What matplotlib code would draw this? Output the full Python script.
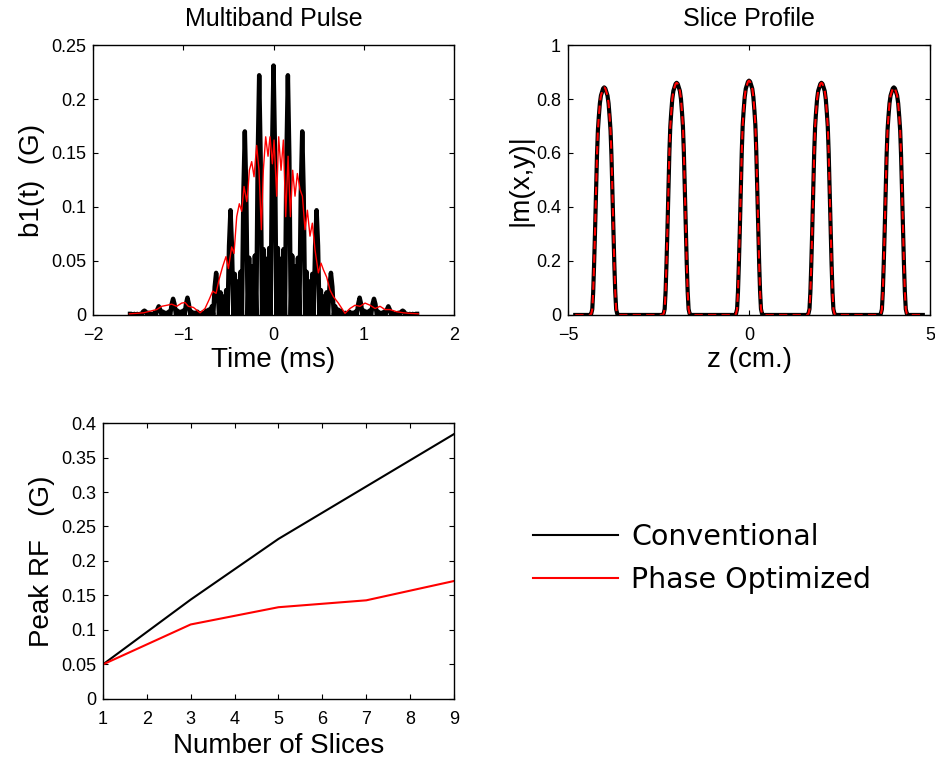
import matplotlib
matplotlib.use('Agg')
import matplotlib.pyplot as plt
import numpy as np

plt.rcParams['font.family'] = ['Liberation Sans', 'DejaVu Sans']
plt.rcParams['xtick.direction'] = 'in'
plt.rcParams['ytick.direction'] = 'in'
plt.rcParams['xtick.top'] = True
plt.rcParams['ytick.right'] = True
plt.rcParams['xtick.labelsize'] = 13
plt.rcParams['ytick.labelsize'] = 13
plt.rcParams['xtick.major.pad'] = 9
plt.rcParams['ytick.major.pad'] = 5
plt.rcParams['axes.linewidth'] = 1.0

# --- Multiband pulse, conventional (black): samples every 0.0159 ms from -1.59 to 1.59
pulse_time = np.round(np.arange(-100, 101) * 0.0159, 4)
pulse_conv = [
    0.001, 0.001, 0, 0.001, 0, 0.001, 0, 0.001, 0, 0.003,
    0.004, 0.003, 0, 0.002, 0, 0.001, 0, 0.002, 0, 0.005,
    0.008, 0.005, 0, 0.003, 0, 0.002, 0, 0.003, 0, 0.010,
    0.015, 0.010, 0, 0.004, 0, 0.003, 0, 0.004, 0, 0.010,
    0.016, 0.010, 0, 0.003, 0, 0.002, 0, 0.003, 0, 0.001,
    0.002, 0.001, 0, 0.004, 0, 0.005, 0, 0.008, 0, 0.026,
    0.039, 0.026, 0, 0.021, 0, 0.017, 0, 0.023, 0, 0.064,
    0.097, 0.064, 0, 0.038, 0, 0.031, 0, 0.040, 0, 0.112,
    0.170, 0.112, 0, 0.053, 0, 0.045, 0, 0.055, 0, 0.146,
    0.222, 0.146, 0, 0.061, 0, 0.052, 0, 0.062, 0, 0.152,
    0.231,
    0.152, 0, 0.062, 0, 0.052, 0, 0.061, 0, 0.146, 0.222,
    0.146, 0, 0.055, 0, 0.045, 0, 0.053, 0, 0.112, 0.170,
    0.112, 0, 0.040, 0, 0.031, 0, 0.038, 0, 0.064, 0.097,
    0.064, 0, 0.023, 0, 0.017, 0, 0.021, 0, 0.026, 0.039,
    0.026, 0, 0.008, 0, 0.005, 0, 0.004, 0, 0.001, 0.002,
    0.001, 0, 0.003, 0, 0.002, 0, 0.003, 0, 0.010, 0.016,
    0.010, 0, 0.004, 0, 0.003, 0, 0.004, 0, 0.010, 0.015,
    0.010, 0, 0.003, 0, 0.002, 0, 0.003, 0, 0.005, 0.008,
    0.005, 0, 0.002, 0, 0.001, 0, 0.002, 0, 0.003, 0.004,
    0.003, 0, 0.001, 0, 0.001, 0, 0.001, 0, 0.001, 0.001,
]

# --- Multiband pulse, phase optimized (red)
opt_time = [
    -1.597, -1.44, -1.295, -1.24, -1.18, -1.128, -1.073, -1.018, -0.98, -0.944,
    -0.888, -0.814, -0.759, -0.715, -0.674, -0.637, -0.60, -0.563, -0.527, -0.50,
    -0.464, -0.438, -0.408, -0.379, -0.353, -0.327, -0.297, -0.283, -0.268, -0.242,
    -0.216, -0.187, -0.161, -0.135, -0.113, -0.087, -0.061, -0.039, -0.013, 0.006,
    0.035, 0.057, 0.083, 0.109, 0.135, 0.161, 0.187, 0.212, 0.238, 0.264,
    0.294, 0.32, 0.349, 0.375, 0.404, 0.43, 0.46, 0.497, 0.526, 0.552,
    0.589, 0.626, 0.663, 0.718, 0.792, 0.847, 0.903, 0.958, 1.014, 1.07,
    1.125, 1.18, 1.236, 1.29, 1.364, 1.44, 1.513, 1.605,
]
pulse_opt = [
    0.001, 0.002, 0.005, 0.008, 0.009, 0.010, 0.008, 0.011, 0.0115, 0.008,
    0.007, 0.002, 0.006, 0.014, 0.022, 0.020, 0.034, 0.045, 0.054, 0.043,
    0.063, 0.057, 0.091, 0.103, 0.096, 0.119, 0.105, 0.116, 0.134, 0.142,
    0.128, 0.157, 0.134, 0.079, 0.134, 0.165, 0.147, 0.165, 0.140, 0.162,
    0.110, 0.165, 0.134, 0.162, 0.091, 0.147, 0.091, 0.134, 0.110, 0.131,
    0.116, 0.110, 0.079, 0.097, 0.073, 0.085, 0.060, 0.039, 0.048, 0.042,
    0.035, 0.023, 0.017, 0.011, 0.0015, 0.006, 0.009, 0.008, 0.011, 0.009,
    0.006, 0.008, 0.005, 0.005, 0.003, 0.002, 0.0015, 0.001,
]

# --- Slice profile |m(x,y)| (both pulses give the same profile)
profile_z = [
    -4.80,
    -4.39, -4.36, -4.33, -4.305, -4.28, -4.255, -4.23, -4.20, -4.175, -4.15, -4.12, -4.09, -4.06, -4.03, -4.00,
    -3.97, -3.94, -3.91, -3.88, -3.85, -3.825, -3.80, -3.77, -3.745, -3.72, -3.695, -3.67, -3.64, -3.61,
    -2.39, -2.36, -2.33, -2.305, -2.28, -2.255, -2.23, -2.20, -2.175, -2.15, -2.12, -2.09, -2.06, -2.03, -2.00,
    -1.97, -1.94, -1.91, -1.88, -1.85, -1.825, -1.80, -1.77, -1.745, -1.72, -1.695, -1.67, -1.64, -1.61,
    -0.39, -0.36, -0.33, -0.305, -0.28, -0.255, -0.23, -0.20, -0.175, -0.15, -0.12, -0.09, -0.06, -0.03, 0.00,
    0.03, 0.06, 0.09, 0.12, 0.15, 0.175, 0.20, 0.23, 0.255, 0.28, 0.305, 0.33, 0.36, 0.39,
    1.61, 1.64, 1.67, 1.695, 1.72, 1.745, 1.77, 1.80, 1.825, 1.85, 1.88, 1.91, 1.94, 1.97, 2.00,
    2.03, 2.06, 2.09, 2.12, 2.15, 2.175, 2.20, 2.23, 2.255, 2.28, 2.305, 2.33, 2.36, 2.39,
    3.61, 3.64, 3.67, 3.695, 3.72, 3.745, 3.77, 3.80, 3.825, 3.85, 3.88, 3.91, 3.94, 3.97, 4.00,
    4.03, 4.06, 4.09, 4.12, 4.15, 4.175, 4.20, 4.23, 4.255, 4.28, 4.305, 4.33, 4.36, 4.39,
    4.80,
]
profile_conv = [
    0,
    0, 0.004, 0.021, 0.084, 0.185, 0.303, 0.438, 0.590, 0.683, 0.733, 0.784, 0.813, 0.826, 0.839, 0.843,
    0.839, 0.826, 0.813, 0.784, 0.733, 0.683, 0.590, 0.438, 0.303, 0.185, 0.084, 0.021, 0.004, 0,
    0, 0.004, 0.022, 0.086, 0.189, 0.310, 0.447, 0.602, 0.697, 0.748, 0.800, 0.830, 0.843, 0.856, 0.860,
    0.856, 0.843, 0.830, 0.800, 0.748, 0.697, 0.602, 0.447, 0.310, 0.189, 0.086, 0.022, 0.004, 0,
    0, 0.004, 0.022, 0.087, 0.191, 0.312, 0.451, 0.608, 0.703, 0.755, 0.807, 0.838, 0.851, 0.864, 0.868,
    0.864, 0.851, 0.838, 0.807, 0.755, 0.703, 0.608, 0.451, 0.312, 0.191, 0.087, 0.022, 0.004, 0,
    0, 0.004, 0.022, 0.086, 0.189, 0.310, 0.447, 0.602, 0.697, 0.748, 0.800, 0.830, 0.843, 0.856, 0.860,
    0.856, 0.843, 0.830, 0.800, 0.748, 0.697, 0.602, 0.447, 0.310, 0.189, 0.086, 0.022, 0.004, 0,
    0, 0.004, 0.021, 0.084, 0.185, 0.303, 0.438, 0.590, 0.683, 0.733, 0.784, 0.813, 0.826, 0.839, 0.843,
    0.839, 0.826, 0.813, 0.784, 0.733, 0.683, 0.590, 0.438, 0.303, 0.185, 0.084, 0.021, 0.004, 0,
    0,
]
profile_opt = list(profile_conv)

# --- Peak RF vs number of slices
n_slices = [1, 3, 5, 7, 9]
peak_conv = [0.050, 0.144, 0.232, 0.308, 0.384]
peak_opt = [0.050, 0.108, 0.133, 0.143, 0.171]

fig = plt.figure(figsize=(9.35, 7.63), dpi=100)

# Multiband pulse
ax1 = fig.add_axes([0.0995, 0.5872, 0.3861, 0.3538])
ax1.plot(pulse_time, pulse_conv, color='black', lw=3.2, solid_joinstyle='round')
ax1.plot(opt_time, pulse_opt, color='red', lw=1.0)
ax1.set_xlim(-2, 2)
ax1.set_ylim(0, 0.25)
ax1.set_xticks([-2, -1, 0, 1, 2])
ax1.set_yticks([0, 0.05, 0.1, 0.15, 0.2, 0.25])
ax1.set_yticklabels(['0', '0.05', '0.1', '0.15', '0.2', '0.25'])
ax1.set_xticklabels(['\u22122', '\u22121', '0', '1', '2'])
ax1.set_title('Multiband Pulse', fontsize=18, pad=14)
ax1.set_xlabel('Time (ms)', fontsize=20, labelpad=2)
ax1.set_ylabel('b1(t)  (G)', fontsize=20)

# Slice profile
ax2 = fig.add_axes([0.6075, 0.5872, 0.3872, 0.3538])
ax2.plot(profile_z, profile_conv, color='black', lw=3, solid_joinstyle='round')
ax2.plot(profile_z, profile_opt, color='red', lw=1.5, ls=(0, (4, 2.5)))
ax2.set_xlim(-5, 5)
ax2.set_ylim(0, 1)
ax2.set_xticks([-5, 0, 5])
ax2.set_xticklabels(['\u22125', '0', '5'])
ax2.set_yticks([0, 0.2, 0.4, 0.6, 0.8, 1])
ax2.set_yticklabels(['0', '0.2', '0.4', '0.6', '0.8', '1'])
ax2.set_title('Slice Profile', fontsize=18, pad=14)
ax2.set_xlabel('z (cm.)', fontsize=20, labelpad=2)
ax2.set_ylabel('|m(x,y)|', fontsize=20, labelpad=2)

# Peak RF
ax3 = fig.add_axes([0.110, 0.0839, 0.3756, 0.3617])
l1, = ax3.plot(n_slices, peak_conv, color='black', lw=1.5)
l2, = ax3.plot(n_slices, peak_opt, color='red', lw=1.5)
ax3.set_xlim(1, 9)
ax3.set_ylim(0, 0.4)
ax3.set_xticks(range(1, 10))
ax3.set_yticks([0, 0.05, 0.1, 0.15, 0.2, 0.25, 0.3, 0.35, 0.4])
ax3.set_yticklabels(['0', '0.05', '0.1', '0.15', '0.2', '0.25', '0.3', '0.35', '0.4'])
ax3.set_xlabel('Number of Slices', fontsize=20, labelpad=3)
ax3.set_ylabel('Peak RF   (G)', fontsize=20)

fig.legend([l1, l2], ['Conventional', 'Phase Optimized'], loc='center left',
           bbox_to_anchor=(0.570, 0.2680), frameon=False, borderpad=0,
           borderaxespad=0, handlelength=3.0, handletextpad=0.45,
           labelspacing=0.5, prop={'family': 'DejaVu Sans', 'size': 20.5})

fig.savefig('out.png', dpi=100)
